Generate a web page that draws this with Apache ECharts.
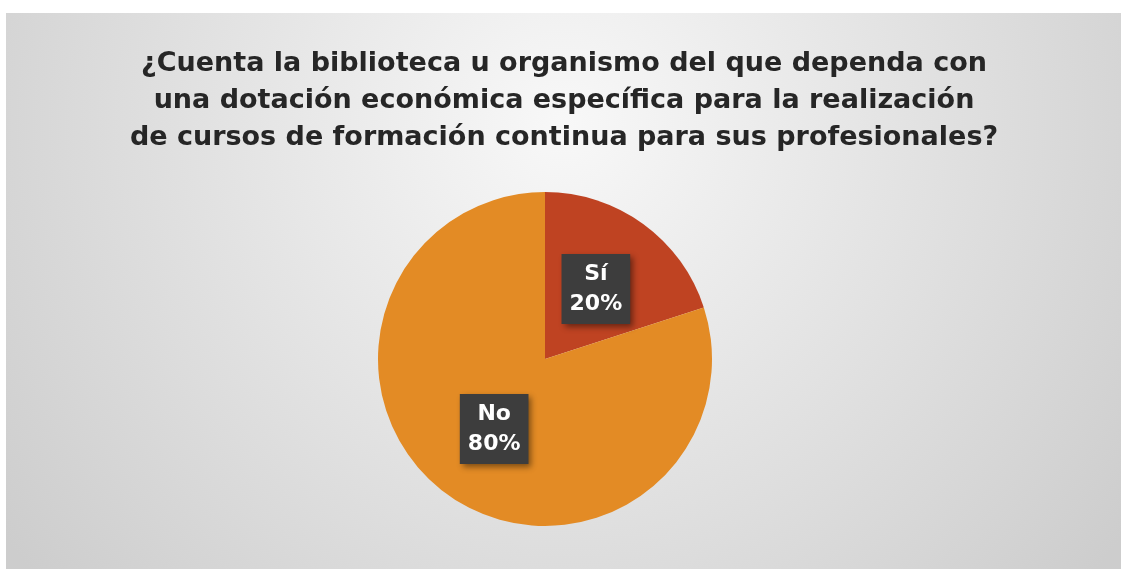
<!DOCTYPE html>
<html>
<head>
<meta charset="utf-8">
<script src="https://cdn.jsdelivr.net/npm/echarts@6/dist/echarts.min.js"></script>
<style>
  html, body { margin: 0; padding: 0; background: #ffffff; }
  #chart { position: absolute; left: 6px; top: 13px; width: 1115px; height: 556px; }
</style>
</head>
<body>
<div id="chart"></div>
<script>
// datos
const categories = ["Sí", "No"];
const values = [20, 80];
const sliceColors = ["#bf4322", "#e38b25"];
const titleText = "¿Cuenta la biblioteca u organismo del que dependa con\nuna dotación económica específica para la realización\nde cursos de formación continua para sus profesionales?";

const chart = echarts.init(document.getElementById("chart"));

const option = {
  backgroundColor: {
    type: "radial", x: 0.5, y: 0.2, r: 1.25,
    colorStops: [
      { offset: 0, color: "#f8f8f8" },
      { offset: 1, color: "#cdcdcd" }
    ]
  },
  title: {
    text: titleText,
    left: 553,
    textAlign: "center",
    top: 27,
    textStyle: {
      fontFamily: "DejaVu Sans",
      fontWeight: "bold",
      fontSize: 27,
      lineHeight: 37,
      color: "#262626"
    }
  },
  series: [
    {
      type: "pie",
      center: [539, 346],
      radius: 167,
      startAngle: 90,
      clockwise: true,
      silent: true,
      itemStyle: { borderWidth: 0 },
      label: {
        show: true,
        position: "inside",
        formatter: "{b}\n{d}%",
        fontFamily: "DejaVu Sans",
        fontWeight: "bold",
        fontSize: 22,
        lineHeight: 30,
        color: "#ffffff",
        backgroundColor: "#3d3d3d",
        padding: [5, 8, 5, 8],
        shadowColor: "rgba(0,0,0,0.45)",
        shadowBlur: 6,
        shadowOffsetX: 3,
        shadowOffsetY: 3
      },
      labelLine: { show: false },
      data: categories.map((name, i) => ({
        name: name,
        value: values[i],
        itemStyle: { color: sliceColors[i] }
      }))
    }
  ]
};

chart.setOption(option);
</script>
</body>
</html>
